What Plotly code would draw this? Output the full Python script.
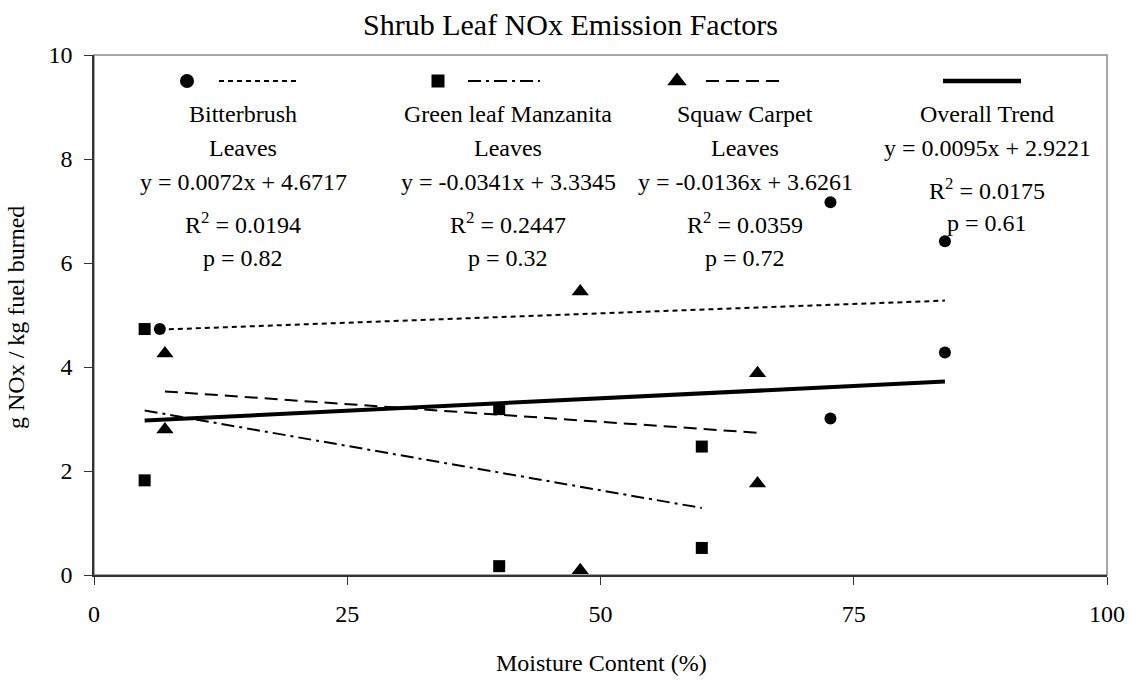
import plotly.graph_objects as go

# ---------------- data ----------------
bitter_x = [6.5, 72.7, 72.7, 84, 84]
bitter_y = [4.73, 7.17, 3.01, 6.42, 4.28]

manz_x = [5, 5, 40, 40, 60, 60]
manz_y = [4.73, 1.82, 3.19, 0.17, 2.47, 0.52]

squaw_x = [7, 7, 48, 48, 65.5, 65.5]
squaw_y = [4.26, 2.80, 5.45, 0.09, 3.88, 1.76]

# linear fits: slope, intercept
bitter_fit = [0.0072, 4.6717]
manz_fit = [-0.0341, 3.3345]
squaw_fit = [-0.0136, 3.6261]
overall_fit = [0.0095, 2.9221]

series_names = ["Bitterbrush", "Green leaf Manzanita", "Squaw Carpet", "Overall Trend"]
series_sub = ["Leaves", "Leaves", "Leaves", ""]
eq_text = ["y = 0.0072x + 4.6717", "y = -0.0341x + 3.3345", "y = -0.0136x + 3.6261", "y = 0.0095x + 2.9221"]
r2_text = ["0.0194", "0.2447", "0.0359", "0.0175"]
p_text = ["0.82", "0.32", "0.72", "0.61"]

x_ticks = [0, 25, 50, 75, 100]
y_ticks = [0, 2, 4, 6, 8, 10]

# ---------------- layout constants ----------------
W, H = 1131, 681
L, R, T, B = 94, 1107, 55, 575
FONT = "Liberation Serif, Times New Roman, serif"


def px(xp):
    return (xp - L) / (R - L)


def py(yp):
    return (B - yp) / (B - T)


def fit_line(xs, fit):
    x0, x1 = min(xs), max(xs)
    return [x0, x1], [fit[0] * x0 + fit[1], fit[0] * x1 + fit[1]]


fig = go.Figure()

all_x = bitter_x + manz_x + squaw_x
DOT, DASHDOT, DASH = "5px,4px", "13px,5px,3px,5px", "13px,7px"
line_specs = [
    (bitter_x, bitter_fit, DOT, 2),
    (manz_x, manz_fit, DASHDOT, 2),
    (squaw_x, squaw_fit, DASH, 2),
    (all_x, overall_fit, "solid", 4),
]
for xs, fit, dash, w in line_specs:
    lx, ly = fit_line(xs, fit)
    fig.add_trace(go.Scatter(x=lx, y=ly, mode="lines",
                             line=dict(color="black", width=w, dash=dash),
                             hoverinfo="skip"))

marker_specs = [
    (bitter_x, bitter_y, "circle", 12),
    (manz_x, manz_y, "square", 12),
    (squaw_x, squaw_y, "triangle-up", 15),
]
for xs, ys, sym, sz in marker_specs:
    fig.add_trace(go.Scatter(x=xs, y=ys, mode="markers", cliponaxis=False,
                             marker=dict(symbol=sym, size=sz, color="black",
                                         line=dict(width=0))))

# ---------------- legend glyphs (pixel-space overlay axes) ----------------
leg_y = 81
legend_glyphs = [
    (187, "circle", 14, 219, 297, DOT, 2),
    (438, "square", 13, 468, 540, DASHDOT, 2),
    (677, "triangle-up", 17, 706, 785, DASH, 2),
    (None, None, None, 943, 1021, "solid", 4.5),
]
for mx, sym, sz, lx0, lx1, dash, w in legend_glyphs:
    fig.add_trace(go.Scatter(x=[lx0, lx1], y=[leg_y, leg_y], mode="lines",
                             xaxis="x2", yaxis="y2",
                             line=dict(color="black", width=w, dash=dash),
                             hoverinfo="skip"))
    if mx is not None:
        fig.add_trace(go.Scatter(x=[mx], y=[leg_y], mode="markers",
                                 xaxis="x2", yaxis="y2",
                                 marker=dict(symbol=sym, size=sz, color="black"),
                                 hoverinfo="skip"))

# ---------------- annotations ----------------
col_x = [243, 508, 745, 987]
row_y = [114, 148, 182, 223, 258]
ann = []
tfont = dict(family=FONT, size=24, color="black")
for i, cx in enumerate(col_x):
    if i < 3:
        lines = [series_names[i], series_sub[i], eq_text[i],
                 "R<sup>2</sup> = " + r2_text[i], "p = " + p_text[i]]
        ys = row_y
    else:
        lines = [series_names[i], eq_text[i],
                 "R<sup>2</sup> = " + r2_text[i], "p = " + p_text[i]]
        ys = [row_y[0], 148, 189, 223]
    for txt, yy in zip(lines, ys):
        ann.append(dict(x=px(cx), y=py(yy), xref="paper", yref="paper",
                        text=txt, showarrow=False, xanchor="center",
                        yanchor="middle", font=tfont))

ann.append(dict(x=px(570), y=py(25), xref="paper", yref="paper",
                text="Shrub Leaf NOx Emission Factors", showarrow=False,
                xanchor="center", yanchor="middle",
                font=dict(family=FONT, size=30, color="black")))
ann.append(dict(x=px(601), y=py(663), xref="paper", yref="paper",
                text="Moisture Content (%)", showarrow=False,
                xanchor="center", yanchor="middle", font=tfont))
ann.append(dict(x=px(16), y=py(318), xref="paper", yref="paper",
                text="g NOx / kg fuel burned", showarrow=False, textangle=-90,
                xanchor="center", yanchor="middle", font=tfont))

fig.update_layout(
    width=W, height=H,
    margin=dict(l=L, r=W - R, t=T, b=H - B, pad=0),
    plot_bgcolor="white", paper_bgcolor="white",
    showlegend=False,
    font=dict(family=FONT, size=24, color="black"),
    annotations=ann,
    shapes=[dict(type="rect", xref="paper", yref="paper", x0=0, x1=1, y0=0, y1=1,
                 line=dict(color="#8a8a8a", width=1.5), layer="below")],
    xaxis=dict(range=[0, 100], tickvals=x_ticks, ticks="outside", ticklen=8,
               tickcolor="#333333", tickwidth=1.2, showline=True,
               linecolor="#333333", linewidth=1.5, showgrid=False,
               zeroline=False, tickfont=dict(family=FONT, size=24, color="black"),
               ticklabelstandoff=8, fixedrange=True, automargin=False),
    yaxis=dict(range=[0, 10], tickvals=y_ticks, ticks="outside", ticklen=8,
               tickcolor="#333333", tickwidth=1.2, showline=True,
               linecolor="#333333", linewidth=1.5, showgrid=False,
               zeroline=False, tickfont=dict(family=FONT, size=24, color="black"),
               ticklabelstandoff=7, fixedrange=True, automargin=False),
    xaxis2=dict(range=[L, R], overlaying="x", anchor="y2", visible=False,
                fixedrange=True),
    yaxis2=dict(range=[B, T], overlaying="y", anchor="x2", visible=False,
                fixedrange=True),
)

fig.write_html(
    "out.html",
    config={"displayModeBar": False},
    post_script="document.body.style.margin='0';document.body.style.padding='0';",
)
